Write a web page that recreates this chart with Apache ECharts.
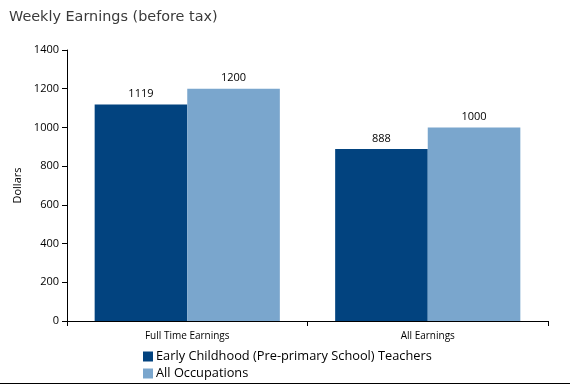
<!DOCTYPE html>
<html><head><meta charset="utf-8">
<script src="https://cdn.jsdelivr.net/npm/echarts@6/dist/echarts.min.js"></script>
<style>html,body{margin:0;padding:0;background:#fff}#c{width:570px;height:385px}</style>
</head><body><div id="c"></div>
<script>
const categories = ["Full Time Earnings", "All Earnings"];
const teachers = [1119, 888];
const allOccupations = [1200, 1000];
const seriesNames = ["Early Childhood (Pre-primary School) Teachers", "All Occupations"];
const yTicks = [0, 200, 400, 600, 800, 1000, 1200, 1400];

const chart = echarts.init(document.getElementById('c'), null, {renderer: 'canvas'});
const lbl = {show: true, position: 'top', distance: 5, color: '#000', fontFamily: 'Open Sans', fontSize: 11};
const legendBase = {orient: 'horizontal', left: 143, padding: 0, itemWidth: 10, itemHeight: 10, icon: 'rect',
    textStyle: {fontFamily: 'Open Sans', fontSize: 12.8, color: '#000', padding: [0,0,0,-2]}};
chart.setOption({
  animation: false,
  title: {text: 'Weekly Earnings (before tax)', left: 4, top: 5,
    textStyle: {fontFamily: 'DejaVu Sans', fontSize: 14.4, fontWeight: 'normal', color: '#3a3a3a'}},
  legend: [
    Object.assign({}, legendBase, {top: 350, data: [seriesNames[0]]}),
    Object.assign({}, legendBase, {top: 367, data: [seriesNames[1]]})
  ],
  grid: {left: 67, right: 22, top: 50, bottom: 64},
  xAxis: {type: 'category', data: categories,
    axisLine: {lineStyle: {color: '#000', width: 1}},
    axisTick: {show: true, length: 5, lineStyle: {color: '#000'}},
    axisLabel: {color: '#000', fontFamily: 'Open Sans', fontSize: 10, margin: 10}},
  yAxis: {type: 'value', min: yTicks[0], max: yTicks[yTicks.length-1], interval: 200,
    name: 'Dollars', nameLocation: 'middle', nameGap: 39, nameRotate: 90,
    nameTextStyle: {color: '#000', fontFamily: 'Open Sans', fontSize: 11},
    axisLine: {show: true, lineStyle: {color: '#000'}},
    axisTick: {show: true, length: 5, lineStyle: {color: '#000'}},
    splitLine: {show: false},
    axisLabel: {color: '#000', fontFamily: 'Open Sans', fontSize: 11, margin: 8, formatter: v => String(v)}},
  series: [
    {name: seriesNames[0], type: 'bar', data: teachers, barGap: '0%', barCategoryGap: '23%',
     itemStyle: {color: '#02437F'}, label: lbl},
    {name: seriesNames[1], type: 'bar', data: allOccupations,
     itemStyle: {color: '#7AA6CD'}, label: lbl}
  ],
  graphic: [{type: 'line', shape: {x1: 0, y1: 383.5, x2: 570, y2: 383.5}, style: {stroke: '#000', lineWidth: 1}}]
});
</script></body></html>
